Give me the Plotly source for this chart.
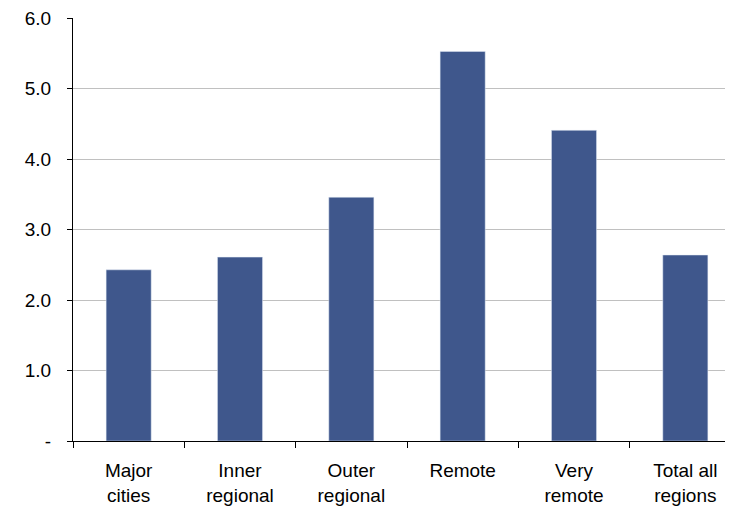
import plotly.graph_objects as go

# regions and values
regions = ["Major<br>cities", "Inner<br>regional", "Outer<br>regional",
           "Remote", "Very<br>remote", "Total all<br>regions"]
rates = [2.43, 2.61, 3.46, 5.53, 4.41, 2.64]

y_ticks = [0, 1, 2, 3, 4, 5, 6]
y_labels = ["-", "1.0", "2.0", "3.0", "4.0", "5.0", "6.0"]

fig = go.Figure()
fig.add_trace(go.Bar(x=regions, y=rates, marker_color="#3f578c",
                     width=0.405, showlegend=False))

# page body has an 8px margin, so the plot is shifted up/left to compensate
fig.update_layout(
    width=733, height=515,
    margin=dict(l=65, r=0, t=10, b=82),
    plot_bgcolor="white", paper_bgcolor="white",
    font=dict(family="Liberation Sans, Arial", size=19, color="black"),
)
fig.update_xaxes(
    range=[-0.5, 5.5], showline=True, linecolor="black", linewidth=1,
    ticks="outside", tickson="boundaries", ticklen=6, tickcolor="black",
    ticklabelstandoff=12, showgrid=False, tickfont=dict(size=19),
    automargin=False,
)
fig.update_yaxes(
    range=[0, 6.004], tickvals=y_ticks, ticktext=y_labels,
    showline=True, linecolor="black", linewidth=1,
    ticks="outside", ticklen=5, tickcolor="black", ticklabelstandoff=12,
    showgrid=True, gridcolor="#c0c0c0", gridwidth=1, zeroline=False,
    tickfont=dict(size=19), automargin=False, ticklabeloverflow="allow",
)

fig.write_html("out.html")
